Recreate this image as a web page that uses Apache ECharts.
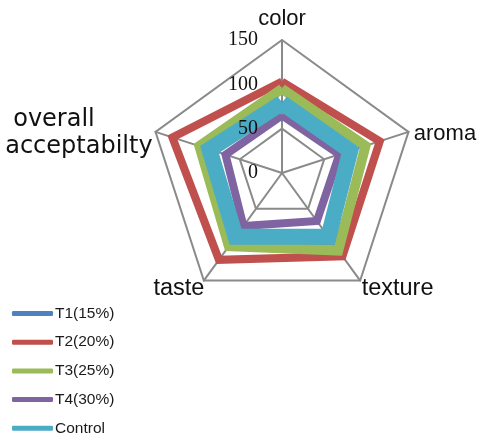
<!DOCTYPE html>
<html>
<head>
<meta charset="utf-8">
<style>
  html, body { margin: 0; padding: 0; background: #fff; }
  #chart { width: 477px; height: 436px; }
</style>
<script src="https://cdn.jsdelivr.net/npm/echarts@6/dist/echarts.min.js"></script>
</head>
<body>
<div id="chart"></div>
<script>
// Sensory attributes, listed clockwise from the top
const categories = ['color', 'aroma', 'texture', 'taste', 'overall acceptabilty'];
const tickLabels = ['0', '50', '100', '150'];
const seriesNames = ['T1(15%)', 'T2(20%)', 'T3(25%)', 'T4(30%)', 'Control'];

// Scores per attribute, same order as categories
const t1 = [79, 81, 92, 89, 86];
const t2 = [103, 116, 116, 121, 130];
const t3 = [95, 99, 108, 102, 98];
const t4 = [65, 68, 67, 74, 67];
const control = [79, 81, 89, 89, 86];

const colors = ['#4F81BD', '#C0504D', '#9BBB59', '#8064A2', '#4BACC6'];
const widths = [8, 8, 10, 8, 16];
const values = [t1, t2, t3, t4, control];

// ECharts lays indicators out counter-clockwise, so walk the list backwards after the first one
const order = [0, 4, 3, 2, 1];
const CENTER = [282, 173];
const RADIUS = 133;

function buildIndicators(withLabels) {
  return order.map((i, k) => {
    const ind = { name: categories[i], max: 150, min: 0 };
    if (withLabels && k === 0) ind.axisLabel = { show: true };
    return ind;
  });
}

// per-attribute styling of the names around the chart
function nameFormatter(name) {
  switch (name) {
    case 'color': return '{c|color}';
    case 'aroma': return '{r|aroma}';
    case 'texture': return '{x|texture}';
    case 'taste': return '{t|taste}';
    case 'overall acceptabilty': return '{o|overall}\n{a|acceptabilty}';
    default: return name;
  }
}

const nameBase = { fontFamily: 'Liberation Sans', fontSize: 22, color: '#111' };
const wideBase = { fontFamily: 'DejaVu Sans', color: '#111' };

const chart = echarts.init(document.getElementById('chart'));
chart.setOption({
  animation: false,
  backgroundColor: '#ffffff',
  legend: {
    orient: 'vertical',
    left: 7,
    top: 299.5,
    height: 140,
    itemWidth: 41,
    itemHeight: 5,
    itemGap: 10.7,
    icon: 'roundRect',
    data: seriesNames,
    textStyle: {
      fontFamily: 'Liberation Sans',
      fontSize: 15.5,
      lineHeight: 18,
      color: '#1a1a1a',
      padding: [0, 0, 0, -3]
    }
  },
  radar: [{
    // grid, spokes and attribute names
    center: CENTER,
    radius: RADIUS,
    startAngle: 90,
    shape: 'polygon',
    splitNumber: 3,
    indicator: buildIndicators(false),
    nameGap: -6,
    axisName: {
      color: '#111',
      fontFamily: 'Liberation Sans',
      fontSize: 22,
      formatter: nameFormatter,
      rich: {
        c: Object.assign({}, nameBase, { padding: [0, 0, 16, 0] }),
        r: Object.assign({}, nameBase, { padding: [0, 0, 0, 11] }),
        x: Object.assign({}, nameBase, { fontSize: 23.5, padding: [26, 0, 0, 5] }),
        t: Object.assign({}, nameBase, { fontSize: 23.5, padding: [25, 3, 0, 0] }),
        o: Object.assign({}, wideBase, { fontSize: 24, lineHeight: 27, width: 148, align: 'left', padding: [0, 0, 0, 8] }),
        a: Object.assign({}, wideBase, { fontSize: 24, lineHeight: 27, width: 148, align: 'left' })
      }
    },
    axisLine: { lineStyle: { color: '#8a8a8a', width: 2 } },
    splitLine: { lineStyle: { color: '#8a8a8a', width: 2 } },
    splitArea: { show: false },
    axisTick: { show: false },
    axisLabel: { show: false }
  }, {
    // value labels along the "color" axis, kept above the series lines
    z: 5,
    center: CENTER,
    radius: RADIUS,
    startAngle: 90,
    shape: 'polygon',
    splitNumber: 3,
    indicator: buildIndicators(true),
    axisName: { show: false },
    axisLine: { show: false },
    splitLine: { show: false },
    splitArea: { show: false },
    axisTick: { show: false },
    axisLabel: {
      show: false,
      color: '#111',
      fontFamily: 'Liberation Serif',
      fontSize: 20,
      margin: 24,
      formatter: function (v) {
        const idx = Math.round(v / 50);
        return tickLabels[idx] !== undefined ? tickLabels[idx] : '';
      }
    }
  }],
  series: [{
    type: 'radar',
    radarIndex: 0,
    symbol: 'none',
    data: values.map((vals, s) => ({
      name: seriesNames[s],
      value: order.map(i => vals[i]),
      itemStyle: { color: colors[s] },
      lineStyle: { color: colors[s], width: widths[s], join: 'miter' }
    }))
  }]
});
</script>
</body>
</html>
